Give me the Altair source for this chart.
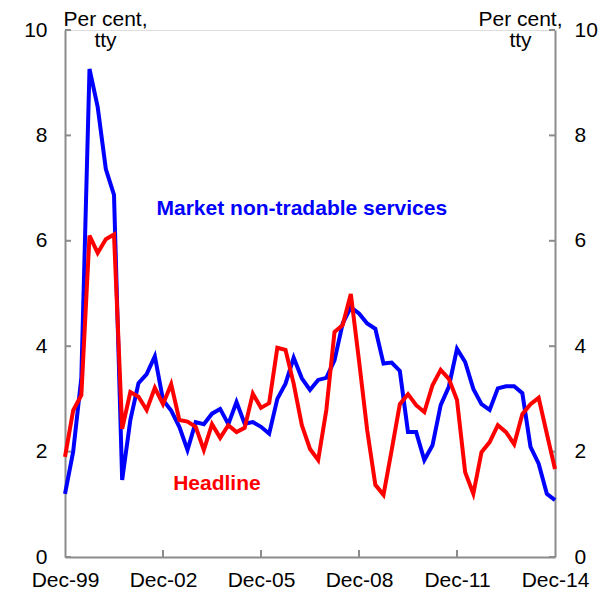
import altair as alt
import pandas as pd

# Quarterly, Dec-99 .. Dec-14 (61 quarters), per cent, tty
quarters = list(range(61))
market = [1.2, 2.0, 3.4, 9.26, 8.54, 7.36, 6.87, 1.46, 2.6, 3.3,
          3.47, 3.81, 2.98, 2.78, 2.47, 2.03, 2.56, 2.52, 2.72, 2.81,
          2.52, 2.94, 2.53, 2.56, 2.47, 2.34, 3.0, 3.29, 3.78, 3.39,
          3.17, 3.36, 3.4, 3.73, 4.43, 4.74, 4.62, 4.43, 4.33, 3.67,
          3.69, 3.53, 2.37, 2.37, 1.84, 2.12, 2.88, 3.23, 3.95, 3.70,
          3.19, 2.9, 2.79, 3.2, 3.24, 3.24, 3.11, 2.09, 1.77, 1.2,
          1.08]
headline = [1.9, 2.78, 3.07, 6.1, 5.77, 6.03, 6.12, 2.43, 3.13, 3.04,
            2.79, 3.21, 2.9, 3.28, 2.6, 2.57, 2.47, 2.03, 2.52, 2.26,
            2.5, 2.37, 2.45, 3.1, 2.83, 2.92, 3.97, 3.93, 3.29, 2.5,
            2.05, 1.84, 2.79, 4.27, 4.4, 4.99, 3.73, 2.41, 1.37, 1.18,
            2.03, 2.9, 3.09, 2.88, 2.75, 3.26, 3.55, 3.38, 2.98, 1.61,
            1.2, 1.99, 2.18, 2.5, 2.37, 2.14, 2.71, 2.9, 3.02, 2.34,
            1.67]
x_tick_pos = [0, 12, 24, 36, 48, 60]
x_tick_labels = ["Dec-99", "Dec-02", "Dec-05", "Dec-08", "Dec-11", "Dec-14"]
y_ticks = [0, 2, 4, 6, 8, 10]
series_names = ["Market non-tradable services", "Headline"]
series_colors = ["#0000FF", "#FF0000"]
label_q = [29.0, 18.6]
label_v = [6.6, 1.38]

FONT = "Liberation Sans"
FS = 21
GREY = "#8c8c8c"

df_m = pd.DataFrame({"q": quarters, "value": market, "series": series_names[0]})
df_h = pd.DataFrame({"q": quarters, "value": headline, "series": series_names[1]})
df_lab = pd.DataFrame({"q": label_q, "value": label_v, "series": series_names})
df_yt = pd.DataFrame({"v": y_ticks})
df_xt = pd.DataFrame({"q": x_tick_pos[1:-1]})

xscale = alt.Scale(domain=[0, 60], nice=False, zero=False)
yscale = alt.Scale(domain=[0, 10], nice=False)
cscale = alt.Scale(domain=series_names, range=series_colors)

label_expr = "[" + ",".join("'%s'" % s for s in x_tick_labels) + "][round(datum.value/12)]"

x_axis = alt.Axis(values=x_tick_pos, labelExpr=label_expr, ticks=False, tickSize=0,
                  grid=False, domainColor=GREY, domainWidth=2, labelPadding=12,
                  labelFontSize=FS, labelFont=FONT, labelColor="black", title=None,
                  labelFlush=False)

left_axis = alt.Axis(orient="left", values=y_ticks, ticks=False, tickSize=0, grid=False,
                     domainColor=GREY, domainWidth=2, labelPadding=18, labelFontSize=FS,
                     labelFont=FONT, labelColor="black", labelFlush=False,
                     title=["Per cent,", "tty"], titleAngle=0, titleAlign="center",
                     titleBaseline="top", titleX=40, titleY=-22, titleFontSize=FS,
                     titleFont=FONT, titleFontWeight="normal", titleLineHeight=21,
                     titleColor="black")

right_axis = alt.Axis(orient="right", values=y_ticks, ticks=False, tickSize=0, grid=False,
                      domainColor=GREY, domainWidth=2, labelPadding=19, labelFontSize=FS,
                      labelFont=FONT, labelColor="black", labelFlush=False,
                      title=["Per cent,", "tty"], titleAngle=0, titleAlign="center",
                      titleBaseline="top", titleX=-35, titleY=-22, titleFontSize=FS,
                      titleFont=FONT, titleFontWeight="normal", titleLineHeight=21,
                      titleColor="black")

ticks_x = alt.Chart(df_xt).mark_rule(color=GREY, strokeWidth=2).encode(
    x=alt.X("q:Q", scale=xscale, axis=x_axis),
    y=alt.value(527), y2=alt.value(520),
)
ticks_left = alt.Chart(df_yt).mark_rule(color=GREY, strokeWidth=2).encode(
    y=alt.Y("v:Q", scale=yscale, axis=right_axis),
    x=alt.value(0), x2=alt.value(6),
)
ticks_right = alt.Chart(df_yt).mark_rule(color=GREY, strokeWidth=2).encode(
    y=alt.Y("v:Q", scale=yscale, axis=None),
    x=alt.value(490), x2=alt.value(484),
)

line_m = alt.Chart(df_m).mark_line(strokeWidth=4).encode(
    x=alt.X("q:Q", scale=xscale, axis=x_axis),
    y=alt.Y("value:Q", scale=yscale, axis=left_axis),
    color=alt.Color("series:N", scale=cscale, legend=None),
)
line_h = alt.Chart(df_h).mark_line(strokeWidth=4).encode(
    x=alt.X("q:Q", scale=xscale, axis=x_axis),
    y=alt.Y("value:Q", scale=yscale, axis=None),
    color=alt.Color("series:N", scale=cscale, legend=None),
)

labels = alt.Chart(df_lab).mark_text(font=FONT, fontSize=FS, fontWeight="bold",
                                     align="center", baseline="middle").encode(
    x=alt.X("q:Q", scale=xscale, axis=x_axis),
    y=alt.Y("value:Q", scale=yscale, axis=None),
    text="series:N",
    color=alt.Color("series:N", scale=cscale, legend=None),
)

chart = alt.layer(ticks_x, ticks_left, ticks_right, line_m, line_h, labels).resolve_axis(
    y="independent"
).properties(
    width=490, height=527,
    autosize=alt.AutoSizeParams(type="none"),
    padding={"left": 57, "top": 22, "right": 46, "bottom": 33},
).configure_view(stroke=None).configure(font=FONT)

chart.save("out.html", embed_options={"renderer": "svg", "actions": False})
